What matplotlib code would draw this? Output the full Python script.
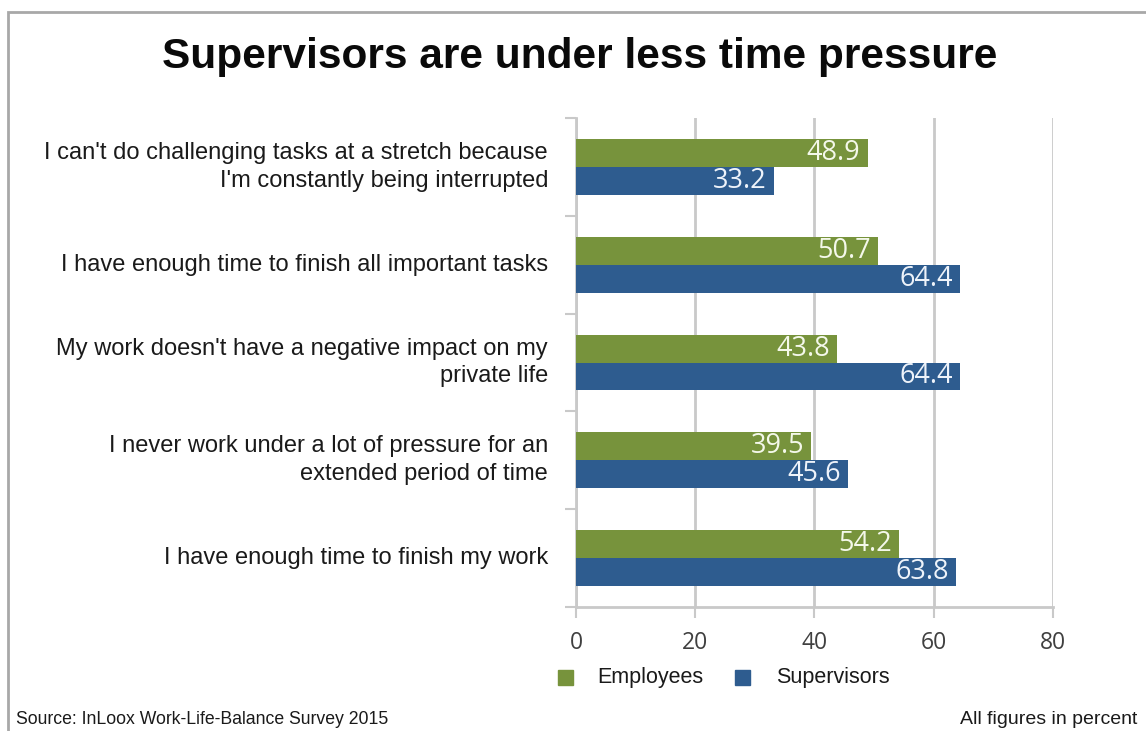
import matplotlib.pyplot as plt
from matplotlib.patches import Rectangle
import numpy as np

statements = [
    "I can't do challenging tasks at a stretch because\nI'm constantly being interrupted",
    "I have enough time to finish all important tasks",
    "My work doesn't have a negative impact on my\nprivate life",
    "I never work under a lot of pressure for an\nextended period of time",
    "I have enough time to finish my work",
]
employees = [48.9, 50.7, 43.8, 39.5, 54.2]
supervisors = [33.2, 64.4, 64.4, 45.6, 63.8]
x_ticks = [0, 20, 40, 60, 80]

green = "#77933c"
blue = "#2e5c8f"
grid_col = "#c9c9c9"

fig = plt.figure(figsize=(11.46, 7.31), dpi=100)
ax = fig.add_axes([0.5026, 0.1696, 0.4162, 0.6690])

y = np.arange(len(statements))
h = 0.285
ax.barh(y - h / 2, employees, height=h, color=green, zorder=3)
ax.barh(y + h / 2, supervisors, height=h, color=blue, zorder=3)

# value labels inside the bar ends
for i in range(len(statements)):
    ax.text(employees[i] - 1.2, y[i] - h / 2, f"{employees[i]:.1f}", ha="right", va="center",
            color="#f4f8ea", fontsize=19.5, family="Open Sans", zorder=4)
    ax.text(supervisors[i] - 1.2, y[i] + h / 2, f"{supervisors[i]:.1f}", ha="right", va="center",
            color="#eef3fa", fontsize=19.5, family="Open Sans", zorder=4)

ax.set_xlim(0, 80)
ax.set_ylim(len(statements) - 0.5, -0.5)
ax.set_xticks(x_ticks)
ax.set_xticklabels([str(t) for t in x_ticks], family="Open Sans", fontsize=16.5, color="#404040")
ax.set_yticks(np.arange(-0.5, len(statements), 1.0))
ax.set_yticklabels([])
ax.tick_params(axis="x", length=8, width=1.5, color=grid_col, pad=9)
ax.tick_params(axis="y", length=8, width=1.5, color=grid_col)
ax.xaxis.grid(True, color=grid_col, linewidth=2, zorder=0)
for s in ["top", "right"]:
    ax.spines[s].set_visible(False)
for s in ["left", "bottom"]:
    ax.spines[s].set_color(grid_col)
    ax.spines[s].set_linewidth(2)

# category text to the left of the axis
for i, label in enumerate(statements):
    fig.text(548 / 1146, ax.transData.transform((0, y[i]))[1] / 731, label,
             ha="right", va="center", fontsize=17, family="Liberation Sans",
             color="#1a1a1a", linespacing=1.35)

fig.text(0.506, 0.922, "Supervisors are under less time pressure", ha="center", va="center",
         fontsize=30.5, fontweight="bold", family="Liberation Sans", color="#0a0a0a")

# legend
fig.patches.append(Rectangle((558 / 1146, 1 - 685 / 731), 15 / 1146, 15 / 731,
                             transform=fig.transFigure, color=green))
fig.text(597 / 1146, 1 - 677 / 731, "Employees", ha="left", va="center",
         fontsize=15.5, family="Liberation Sans", color="#1a1a1a")
fig.patches.append(Rectangle((735 / 1146, 1 - 685 / 731), 15 / 1146, 15 / 731,
                             transform=fig.transFigure, color=blue))
fig.text(776 / 1146, 1 - 677 / 731, "Supervisors", ha="left", va="center",
         fontsize=15.5, family="Liberation Sans", color="#1a1a1a")

fig.text(16 / 1146, 1 - 719 / 731, "Source: InLoox Work-Life-Balance Survey 2015",
         ha="left", va="center", fontsize=12.7, family="Liberation Sans", color="#1a1a1a")
fig.text(1137 / 1146, 1 - 719 / 731, "All figures in percent",
         ha="right", va="center", fontsize=14, family="Liberation Sans", color="#1a1a1a")

# outer frame
fig.patches.append(Rectangle((8 / 1146, -0.1), 1.2, 1 - 12 / 731 + 0.1,
                             transform=fig.transFigure, fill=False,
                             edgecolor="#a8a8a8", linewidth=2))

fig.savefig("out.png", dpi=100)
